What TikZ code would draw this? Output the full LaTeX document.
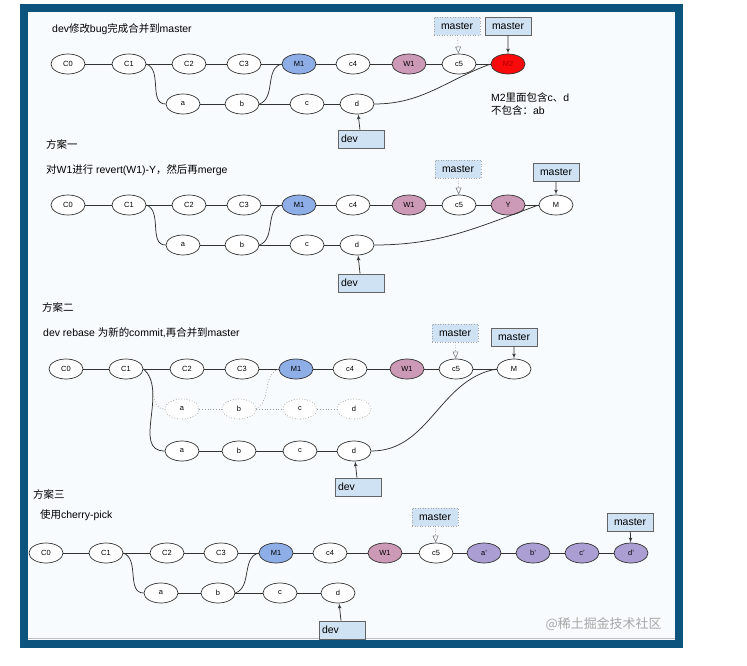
\documentclass[tikz,border=0pt]{standalone}
\usepackage{fontspec}
\setmainfont{Liberation Sans}
\newfontfamily\zhfont{Noto Sans CJK SC}
\usetikzlibrary{shapes,arrows}
\definecolor{framecol}{RGB}{12,84,125}
\definecolor{bgcol}{RGB}{248,251,253}
\definecolor{linecol}{RGB}{50,50,50}
\definecolor{boxfill}{RGB}{207,226,243}
\definecolor{boxline}{RGB}{100,100,100}
\definecolor{m1fill}{RGB}{142,174,232}
\definecolor{w1fill}{RGB}{204,153,183}
\definecolor{m2fill}{RGB}{250,10,10}
\definecolor{pickfill}{RGB}{170,158,210}
\tikzstyle{commit} = [ellipse, draw=linecol, line width=0.7bp, fill=white, minimum width=34bp, minimum height=20bp, inner sep=0pt, font=\fontsize{7.5}{9}\selectfont, node distance=55bp]
\tikzstyle{ghost} = [commit, draw=gray!80, dotted]
\tikzstyle{branch} = [rectangle, draw=boxline, line width=0.6bp, fill=boxfill, minimum width=46bp, minimum height=18bp, inner sep=2pt, font=\fontsize{10.5}{12}\selectfont]
\tikzstyle{oldbranch} = [branch, draw=gray!70, dotted]
\tikzstyle{devbox} = [branch, text width=40bp]
\tikzstyle{note} = [anchor=west, inner sep=0pt, font=\fontsize{10.5}{13}\selectfont]
\tikzstyle{line} = [draw, linecol, line width=0.75bp]
\tikzstyle{ghostline} = [draw, gray!80, line width=0.75bp, dotted]
\tikzstyle{pointer} = [draw, linecol, line width=0.75bp, -latex']
\tikzstyle{oldpointer} = [draw, gray, line width=0.6bp, dotted, -open triangle 45]

\begin{document}
\begin{tikzpicture}[x=1bp, y=-1bp]
		\useasboundingbox (0,0) rectangle (747,666);
		\fill [white] (0,0) rectangle (747,666);
		\fill [framecol] (20,4) rectangle (683,648);
		\fill [bgcol] (28,12) rectangle (675,640);
		\draw [gray!50] (28,638) -- (675,638);

		% before the fix
		\node [note] (o-title) at (52,29) {dev{\zhfont 修改}bug{\zhfont 完成合并到}master};
		\node [commit] (o-C0) at (68,64) {C0};
		\node [commit, right of=o-C0, node distance=61bp] (o-C1) {C1};
		\node [commit, right of=o-C1, node distance=60bp] (o-C2) {C2};
		\node [commit, right of=o-C2] (o-C3) {C3};
		\node [commit, fill=m1fill, right of=o-C3] (o-M1) {M1};
		\node [commit, right of=o-M1, node distance=54bp] (o-c4) {c4};
		\node [commit, fill=w1fill, right of=o-c4, node distance=56bp] (o-W1) {W1};
		\node [commit, right of=o-W1, node distance=50bp] (o-c5) {c5};
		\node [commit, fill=m2fill, text={rgb,255:red,170;green,0;blue,0}, right of=o-c5, node distance=49bp] (o-M2) {M2};
		\node [commit] (o-a) at (183,104) {a};
		\node [commit, right of=o-a, node distance=59bp] (o-b) {b};
		\node [commit, right of=o-b, node distance=65bp] (o-c) {c};
		\node [commit, right of=o-c, node distance=50bp] (o-d) {d};
		\node [oldbranch] (o-old) at (457,26) {master};
		\node [branch] (o-master) at (508,26) {master};
		\node [devbox] (o-dev) at (361,139) {dev};
		\node [note, align=left] (o-remark) at (491,104) {M2{\zhfont 里面包含}c{\zhfont 、}d\\{\zhfont 不包含：}ab};

		\path [line] (o-C0) -- (o-C1);
		\path [line] (o-C1) -- (o-C2);
		\path [line] (o-C2) -- (o-C3);
		\path [line] (o-C3) -- (o-M1);
		\path [line] (o-M1) -- (o-c4);
		\path [line] (o-c4) -- (o-W1);
		\path [line] (o-W1) -- (o-c5);
		\path [line] (o-c5) -- (o-M2);
		\path [line] (o-C1.east) to[out=-20, in=180] (o-a.west);
		\path [line] (o-a) -- (o-b);
		\path [line] (o-b) -- (o-c);
		\path [line] (o-c) -- (o-d);
		\path [line] (o-b.east) to[out=20, in=195] (o-M1.west);
		\path [line] (o-d.east) to[out=0, in=200] (o-M2.west);
		\path [oldpointer] (o-old) -- (o-c5);
		\path [pointer] (o-master) -- (o-M2);
		\path [pointer] (o-dev) -- (o-d);

		% plan one: revert W1
		\node [note] (p1-head) at (46,145) {\zhfont 方案一};
		\node [note] (p1-title) at (46,170) {{\zhfont 对}W1{\zhfont 进行} revert(W1)-Y{\zhfont ，然后再}merge};
		\node [commit] (p1-C0) at (68,205) {C0};
		\node [commit, right of=p1-C0, node distance=61bp] (p1-C1) {C1};
		\node [commit, right of=p1-C1, node distance=60bp] (p1-C2) {C2};
		\node [commit, right of=p1-C2] (p1-C3) {C3};
		\node [commit, fill=m1fill, right of=p1-C3] (p1-M1) {M1};
		\node [commit, right of=p1-M1, node distance=54bp] (p1-c4) {c4};
		\node [commit, fill=w1fill, right of=p1-c4, node distance=56bp] (p1-W1) {W1};
		\node [commit, right of=p1-W1, node distance=50bp] (p1-c5) {c5};
		\node [commit, fill=w1fill, right of=p1-c5, node distance=49bp] (p1-Y) {Y};
		\node [commit, right of=p1-Y, node distance=48bp] (p1-M) {M};
		\node [commit] (p1-a) at (183,245) {a};
		\node [commit, right of=p1-a, node distance=59bp] (p1-b) {b};
		\node [commit, right of=p1-b, node distance=65bp] (p1-c) {c};
		\node [commit, right of=p1-c, node distance=50bp] (p1-d) {d};
		\node [oldbranch] (p1-old) at (458,169) {master};
		\node [branch] (p1-master) at (556,172) {master};
		\node [devbox] (p1-dev) at (361,283) {dev};

		\path [line] (p1-C0) -- (p1-C1);
		\path [line] (p1-C1) -- (p1-C2);
		\path [line] (p1-C2) -- (p1-C3);
		\path [line] (p1-C3) -- (p1-M1);
		\path [line] (p1-M1) -- (p1-c4);
		\path [line] (p1-c4) -- (p1-W1);
		\path [line] (p1-W1) -- (p1-c5);
		\path [line] (p1-c5) -- (p1-Y);
		\path [line] (p1-Y) -- (p1-M);
		\path [line] (p1-C1.east) to[out=-20, in=180] (p1-a.west);
		\path [line] (p1-a) -- (p1-b);
		\path [line] (p1-b) -- (p1-c);
		\path [line] (p1-c) -- (p1-d);
		\path [line] (p1-b.east) to[out=20, in=195] (p1-M1.west);
		\path [line] (p1-d.east) to[out=0, in=200] (p1-M.west);
		\path [oldpointer] (p1-old) -- (p1-c5);
		\path [pointer] (p1-master) -- (p1-M);
		\path [pointer] (p1-dev) -- (p1-d);

		% plan two: rebase dev
		\node [note] (p2-head) at (42,308) {\zhfont 方案二};
		\node [note] (p2-title) at (43,333) {dev rebase {\zhfont 为新的}commit,{\zhfont 再合并到}master};
		\node [commit] (p2-C0) at (66,369) {C0};
		\node [commit, right of=p2-C0, node distance=60bp] (p2-C1) {C1};
		\node [commit, right of=p2-C1, node distance=61bp] (p2-C2) {C2};
		\node [commit, right of=p2-C2] (p2-C3) {C3};
		\node [commit, fill=m1fill, right of=p2-C3, node distance=54bp] (p2-M1) {M1};
		\node [commit, right of=p2-M1, node distance=54bp] (p2-c4) {c4};
		\node [commit, fill=w1fill, right of=p2-c4, node distance=57bp] (p2-W1) {W1};
		\node [commit, right of=p2-W1, node distance=49bp] (p2-c5) {c5};
		\node [commit, right of=p2-c5, node distance=58bp] (p2-M) {M};
		\node [ghost] (p2-oa) at (182,409) {a};
		\node [ghost, right of=p2-oa, node distance=57bp] (p2-ob) {b};
		\node [ghost, right of=p2-ob, node distance=61bp] (p2-oc) {c};
		\node [ghost, right of=p2-oc, node distance=54bp] (p2-od) {d};
		\node [commit] (p2-a) at (182,451) {a};
		\node [commit, right of=p2-a, node distance=57bp] (p2-b) {b};
		\node [commit, right of=p2-b, node distance=61bp] (p2-c) {c};
		\node [commit, right of=p2-c, node distance=54bp] (p2-d) {d};
		\node [oldbranch] (p2-old) at (455,333) {master};
		\node [branch] (p2-master) at (514,337) {master};
		\node [devbox] (p2-dev) at (358,487) {dev};

		\path [line] (p2-C0) -- (p2-C1);
		\path [line] (p2-C1) -- (p2-C2);
		\path [line] (p2-C2) -- (p2-C3);
		\path [line] (p2-C3) -- (p2-M1);
		\path [line] (p2-M1) -- (p2-c4);
		\path [line] (p2-c4) -- (p2-W1);
		\path [line] (p2-W1) -- (p2-c5);
		\path [line] (p2-c5) -- (p2-M);
		\path [ghostline] (p2-C1.east) to[out=-30, in=180] (p2-oa.west);
		\path [ghostline] (p2-oa) -- (p2-ob);
		\path [ghostline] (p2-ob) -- (p2-oc);
		\path [ghostline] (p2-oc) -- (p2-od);
		\path [ghostline] (p2-ob.east) to[out=30, in=200] (p2-M1.west);
		\path [line] (p2-C1.east) to[out=-40, in=180] (p2-a.west);
		\path [line] (p2-a) -- (p2-b);
		\path [line] (p2-b) -- (p2-c);
		\path [line] (p2-c) -- (p2-d);
		\path [line] (p2-d.east) to[out=0, in=190] (p2-M.west);
		\path [oldpointer] (p2-old) -- (p2-c5);
		\path [pointer] (p2-master) -- (p2-M);
		\path [pointer] (p2-dev) -- (p2-d);

		% plan three: cherry-pick
		\node [note] (p3-head) at (33,494) {\zhfont 方案三};
		\node [note] (p3-title) at (40,515) {{\zhfont 使用}cherry-pick};
		\node [commit] (p3-C0) at (46,553) {C0};
		\node [commit, right of=p3-C0, node distance=60bp] (p3-C1) {C1};
		\node [commit, right of=p3-C1, node distance=61bp] (p3-C2) {C2};
		\node [commit, right of=p3-C2, node distance=54bp] (p3-C3) {C3};
		\node [commit, fill=m1fill, right of=p3-C3] (p3-M1) {M1};
		\node [commit, right of=p3-M1, node distance=54bp] (p3-c4) {c4};
		\node [commit, fill=w1fill, right of=p3-c4] (p3-W1) {W1};
		\node [commit, right of=p3-W1, node distance=51bp] (p3-c5) {c5};
		\node [commit, fill=pickfill, right of=p3-c5, node distance=48bp] (p3-a2) {a'};
		\node [commit, fill=pickfill, right of=p3-a2, node distance=49bp] (p3-b2) {b'};
		\node [commit, fill=pickfill, right of=p3-b2, node distance=49bp] (p3-c2) {c'};
		\node [commit, fill=pickfill, right of=p3-c2, node distance=49bp] (p3-d2) {d'};
		\node [commit] (p3-a) at (161,593) {a};
		\node [commit, right of=p3-a, node distance=57bp] (p3-b) {b};
		\node [commit, right of=p3-b, node distance=62bp] (p3-c) {c};
		\node [commit, right of=p3-c, node distance=58bp] (p3-d) {d};
		\node [oldbranch] (p3-old) at (435,517) {master};
		\node [branch] (p3-master) at (630,522) {master};
		\node [devbox] (p3-dev) at (342,630) {dev};

		\path [line] (p3-C0) -- (p3-C1);
		\path [line] (p3-C1) -- (p3-C2);
		\path [line] (p3-C2) -- (p3-C3);
		\path [line] (p3-C3) -- (p3-M1);
		\path [line] (p3-M1) -- (p3-c4);
		\path [line] (p3-c4) -- (p3-W1);
		\path [line] (p3-W1) -- (p3-c5);
		\path [line] (p3-c5) -- (p3-a2);
		\path [line] (p3-a2) -- (p3-b2);
		\path [line] (p3-b2) -- (p3-c2);
		\path [line] (p3-c2) -- (p3-d2);
		\path [line] (p3-C1.east) to[out=-20, in=180] (p3-a.west);
		\path [line] (p3-a) -- (p3-b);
		\path [line] (p3-b) -- (p3-c);
		\path [line] (p3-c) -- (p3-d);
		\path [line] (p3-b.east) to[out=20, in=195] (p3-M1.west);
		\path [oldpointer] (p3-old) -- (p3-c5);
		\path [pointer] (p3-master) -- (p3-d2);
		\path [pointer] (p3-dev) -- (p3-d);

		\node [anchor=east, text=gray!70, font=\zhfont\fontsize{13}{15}\selectfont] (mark) at (665,624) {@稀土掘金技术社区};
	\end{tikzpicture}
\end{document}
